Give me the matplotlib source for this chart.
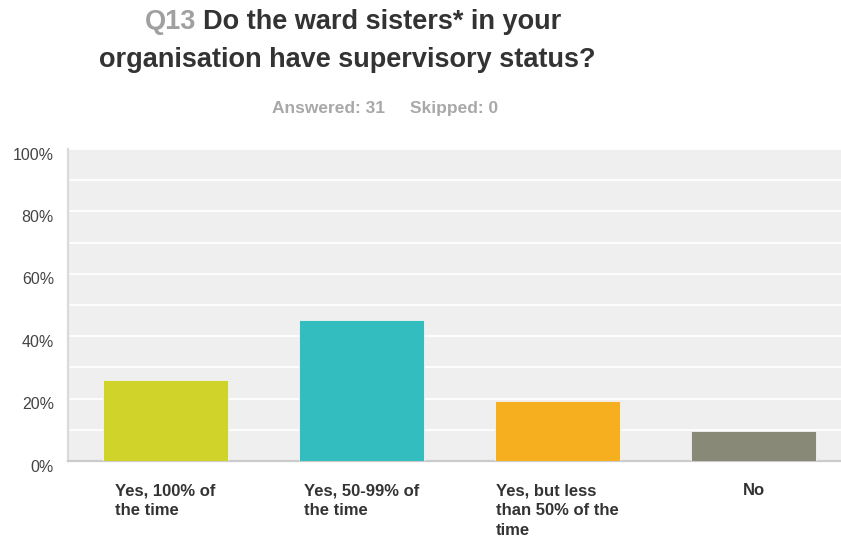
import matplotlib
matplotlib.use("Agg")
import matplotlib.pyplot as plt
import numpy as np

plt.rcParams['font.family'] = ['Liberation Sans', 'DejaVu Sans']

# survey responses (31 answered)
choices = ["Yes, 100% of\nthe time", "Yes, 50-99% of\nthe time",
           "Yes, but less\nthan 50% of the\ntime", "No"]
percent = [25.81, 45.16, 19.35, 9.68]
bar_colors = ["#d0d42a", "#34bdbe", "#f6b01f", "#888a77"]
y_ticks = [0, 20, 40, 60, 80, 100]

W, H = 841, 540
fig = plt.figure(figsize=(W / 100, H / 100), dpi=100)
fig.patch.set_facecolor("white")

ax = fig.add_axes([68 / W, 1 - 461 / H, (W - 68) / W, (461 - 149) / H])
ax.set_facecolor("#efefef")

x = np.arange(len(choices))
ax.bar(x, percent, width=0.638, color=bar_colors, edgecolor="#f4f4f4",
       linewidth=0.6, zorder=3)

ax.set_xlim(-0.497, 3.446)
ax.set_ylim(0, 100)

# white grid every 10%
ax.set_yticks(range(0, 101, 10))
ax.set_yticklabels([])
ax.yaxis.grid(True, color="white", linewidth=1.2)
ax.set_axisbelow(True)
ax.tick_params(axis="both", length=0)
ax.set_xticks([])

for side in ("top", "right"):
    ax.spines[side].set_visible(False)
ax.spines["left"].set_color("#dadada")
ax.spines["left"].set_linewidth(1.6)
ax.spines["bottom"].set_color("#cbcbcb")
ax.spines["bottom"].set_linewidth(1.6)

# y labels sit a little below their grid line
for v in y_ticks:
    ax.annotate(f"{v}%", xy=(54, v), xycoords=("figure pixels", "data"),
                xytext=(0, -6), textcoords="offset pixels",
                ha="right", va="center", fontsize=11.5, color="#444444",
                annotation_clip=False)

# category labels under each bar
for i, lab in enumerate(choices):
    ax.annotate(lab, xy=(i, 0), xycoords=("data", "axes fraction"),
                xytext=(0, -22), textcoords="offset pixels",
                ha="center", va="top", multialignment="left",
                fontsize=12, fontweight="bold", color="#333333",
                linespacing=1.4, annotation_clip=False)

# title
t1 = fig.text(145 / W, 1 - 29 / H, "Q13", fontsize=19.5, fontweight="bold",
              color="#a0a0a0", ha="left", va="baseline")
ax.annotate("Do the ward sisters* in your", xy=(1, 0), xycoords=t1,
            xytext=(7, 0), textcoords="offset pixels",
            ha="left", va="bottom", fontsize=19.5, fontweight="bold",
            color="#333333", annotation_clip=False)
fig.text(347 / W, 1 - 67 / H, "organisation have supervisory status?",
         fontsize=19.5, fontweight="bold", color="#333333",
         ha="center", va="baseline")

fig.text(272 / W, 1 - 113 / H, "Answered: 31", fontsize=12.5,
         fontweight="bold", color="#a8a8a8", ha="left", va="baseline")
fig.text(410 / W, 1 - 113 / H, "Skipped: 0", fontsize=12.5,
         fontweight="bold", color="#a8a8a8", ha="left", va="baseline")

fig.savefig("out.png", dpi=100)
